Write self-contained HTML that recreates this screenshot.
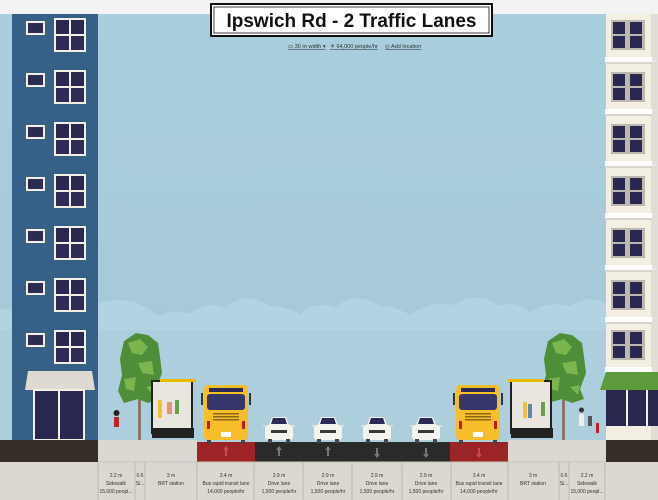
<!DOCTYPE html>
<html><head><meta charset="utf-8"><style>
html,body{margin:0;padding:0;width:658px;height:500px;overflow:hidden;background:#dcd8cf}
svg{display:block}
text{font-family:"Liberation Sans",sans-serif}
</style></head><body>
<svg width="658" height="500" viewBox="0 0 658 500" xmlns="http://www.w3.org/2000/svg">
<defs>
<linearGradient id="sky" x1="0" y1="0" x2="0" y2="1"><stop offset="0" stop-color="#a9cfdf"/><stop offset="1" stop-color="#a5c7d6"/></linearGradient>
<g id="lw">
 <rect x="26" y="3" width="19" height="14" fill="#f3efe3"/><rect x="28" y="5" width="15" height="10" fill="#2d2b52"/>
 <rect x="54" y="0" width="32" height="34" fill="#f3efe3"/><rect x="56" y="2" width="13" height="14" fill="#2a2850"/><rect x="71" y="2" width="13" height="14" fill="#2a2850"/><rect x="56" y="18" width="13" height="14" fill="#2e2c56"/><rect x="71" y="18" width="13" height="14" fill="#2e2c56"/>
</g>
<g id="rw">
 <rect x="611" y="0" width="34" height="30" fill="#bdb9b0"/><rect x="613" y="2" width="12" height="12" fill="#2a2850"/><rect x="613" y="16" width="12" height="12" fill="#2a2850"/><rect x="630" y="2" width="12" height="12" fill="#2a2850"/><rect x="630" y="16" width="12" height="12" fill="#2a2850"/>
 <rect x="605" y="37" width="47" height="7" fill="#fff"/><rect x="605" y="42" width="47" height="2" fill="#d8d4ca"/>
</g>
<g id="car">
 <rect x="2" y="10" width="28" height="15" rx="3" fill="#f4f3ee"/><path d="M6 10 L9 2 H23 L26 10 Z" fill="#f4f3ee"/><path d="M8 9 L10 3 H22 L24 9 Z" fill="#2b2a55"/>
 <rect x="8" y="15" width="16" height="3" fill="#3a3a3a"/><rect x="0" y="10" width="3" height="2" fill="#ddd"/><rect x="29" y="10" width="3" height="2" fill="#ddd"/>
 <rect x="5" y="24" width="4" height="4" fill="#444"/><rect x="23" y="24" width="4" height="4" fill="#444"/>
</g>
<g id="bus">
 <rect x="3" y="0" width="44" height="55" rx="4" fill="#f7bd2b"/><rect x="8" y="3" width="34" height="4" fill="#2b2a55"/><rect x="6" y="9" width="38" height="16" rx="3" fill="#37366a"/>
 <rect x="12" y="28" width="26" height="1.5" fill="#8a6a14"/><rect x="12" y="31" width="26" height="1.5" fill="#8a6a14"/><rect x="12" y="34" width="26" height="1.5" fill="#8a6a14"/>
 <rect x="6" y="36" width="3" height="8" fill="#b22"/><rect x="41" y="36" width="3" height="8" fill="#b22"/><rect x="20" y="47" width="10" height="5" fill="#fff"/>
 <rect x="0" y="8" width="2" height="12" fill="#333"/><rect x="48" y="8" width="2" height="12" fill="#333"/>
 <rect x="6" y="55" width="4" height="4" fill="#444"/><rect x="40" y="55" width="4" height="4" fill="#444"/>
</g>
<g id="tree">
 <path d="M20 45 L20 107 H23 V60 L32 48 L22 55 L21 40 Z" fill="#8a7566"/>
 <path d="M6 8 L18 0 L30 2 L40 10 L42 24 L44 40 L38 56 L42 66 L30 70 L20 66 L6 70 L0 58 L4 42 L2 26 Z" fill="#4e8e38"/>
 <path d="M10 10 L22 6 L30 14 L24 22 L14 20 Z M20 30 L34 28 L36 42 L24 40 Z M6 46 L18 44 L16 58 L8 56 Z M28 54 L38 52 L36 62 Z" fill="#7cb44e"/>
</g>
</defs>
<rect width="658" height="500" fill="#dcd8cf"/>
<rect y="0" width="658" height="442" fill="url(#sky)"/>
<path d="M0 310 Q8 306 12 312 Q30 290 55 302 Q70 300 85 310 Q95 302 115 300 Q140 300 158 316 Q175 308 190 314 Q205 300 225 308 Q245 290 270 306 Q285 306 300 314 Q315 300 335 308 Q355 290 380 306 Q395 306 410 315 Q430 300 455 305 Q475 290 500 306 Q515 300 530 312 Q550 300 570 306 Q590 292 610 306 L658 306 V442 H0 Z" fill="#b2d4e2"/>
<rect y="330" width="658" height="112" fill="#adcfdd"/>
<rect x="0" y="0" width="658" height="14" fill="#f3f3f3"/>
<rect x="12" y="14" width="86" height="428" fill="#376086"/>
<use href="#lw" y="18"/><use href="#lw" y="70"/><use href="#lw" y="122"/><use href="#lw" y="174"/><use href="#lw" y="226"/><use href="#lw" y="278"/><use href="#lw" y="330"/>
<path d="M28 371 H92 L95 390 H25 Z" fill="#dedad1"/>
<rect x="33" y="389" width="52" height="52" fill="#f3efe3"/><rect x="35" y="391" width="23" height="48" fill="#2a2850"/><rect x="60" y="391" width="23" height="48" fill="#2a2850"/>
<rect x="606" y="14" width="52" height="428" fill="#f3efe3"/><rect x="651" y="14" width="7" height="428" fill="#e2ded5"/>
<use href="#rw" y="20"/><use href="#rw" y="72"/><use href="#rw" y="124"/><use href="#rw" y="176"/><use href="#rw" y="228"/><use href="#rw" y="280"/><use href="#rw" y="330"/>
<path d="M606 372 H658 V390 H600 Z" fill="#5c9a3c"/>
<rect x="606" y="390" width="52" height="36" fill="#2a2850"/><rect x="626" y="390" width="2" height="36" fill="#f3efe3"/><rect x="646" y="390" width="2" height="36" fill="#f3efe3"/>
<rect x="0" y="440" width="98" height="22" fill="#352d28"/><rect x="606" y="440" width="52" height="22" fill="#352d28"/>
<rect x="98" y="440" width="99" height="22" fill="#dcd8cf"/><rect x="508" y="440" width="98" height="22" fill="#dcd8cf"/>
<rect x="197" y="442" width="58" height="20" fill="#9d2426"/><rect x="450" y="442" width="58" height="20" fill="#9d2426"/>
<rect x="255" y="442" width="195" height="20" fill="#2a2b29"/>
<g fill="#777"><path d="M226 446 l-3 4 h2 v6 h2 v-6 h2 z" fill="#c05050"/><path d="M279 446 l-3 4 h2 v6 h2 v-6 h2 z"/><path d="M328 446 l-3 4 h2 v6 h2 v-6 h2 z"/><path d="M377 458 l-3 -4 h2 v-6 h2 v6 h2 z"/><path d="M426 458 l-3 -4 h2 v-6 h2 v6 h2 z"/><path d="M479 458 l-3 -4 h2 v-6 h2 v6 h2 z" fill="#c05050"/></g>
<use href="#tree" x="118" y="333"/><use href="#tree" x="542" y="333"/>
<rect x="152" y="381" width="40" height="52" fill="#e8e6df" stroke="#222" stroke-width="2"/><rect x="160" y="379" width="36" height="3" fill="#f0b800"/><rect x="152" y="428" width="42" height="10" fill="#222"/>
<rect x="158" y="400" width="4" height="18" fill="#f2c230"/><rect x="167" y="402" width="5" height="12" fill="#f09070"/><rect x="175" y="400" width="4" height="14" fill="#6aa04a"/>
<rect x="511" y="381" width="40" height="52" fill="#e8e6df" stroke="#222" stroke-width="2"/><rect x="508" y="379" width="36" height="3" fill="#f0b800"/><rect x="511" y="428" width="42" height="10" fill="#222"/>
<rect x="523" y="402" width="4" height="16" fill="#f2c230"/><rect x="528" y="404" width="4" height="14" fill="#5b87b7"/><rect x="541" y="402" width="4" height="14" fill="#6aa04a"/>
<rect x="114" y="417" width="5" height="10" fill="#c02028"/><circle cx="116.5" cy="413" r="3" fill="#222"/>
<rect x="579" y="414" width="5" height="12" fill="#eee"/><circle cx="581.5" cy="410" r="2.5" fill="#333"/><rect x="588" y="416" width="4" height="10" fill="#555"/><rect x="596" y="423" width="3" height="10" fill="#c02028"/>
<use href="#bus" x="201" y="385"/><use href="#bus" x="453" y="385"/>
<use href="#car" x="263" y="415"/><use href="#car" x="312" y="415"/><use href="#car" x="361" y="415"/><use href="#car" x="410" y="415"/>
<rect x="211" y="4" width="281" height="32" fill="#fff" stroke="#111" stroke-width="2"/>
<rect x="214" y="7" width="275" height="26" fill="none" stroke="#111" stroke-width="0.8"/>
<text x="351.5" y="27" text-anchor="middle" font-size="19" font-weight="bold" fill="#111" textLength="250" lengthAdjust="spacingAndGlyphs">Ipswich Rd - 2 Traffic Lanes</text>
<g font-size="5.5" fill="#333" text-decoration="underline"><text x="288" y="48">▭ 30 m width ▾</text><text x="330" y="48">⚘ 64,000 people/hr</text><text x="385" y="48">◎ Add location</text></g>
<rect x="0" y="462" width="658" height="38" fill="#dcd8cf"/>
<g stroke="#bdb8ae" stroke-width="1"><line x1="98" y1="462" x2="98" y2="500"/><line x1="135" y1="462" x2="135" y2="500"/><line x1="145" y1="462" x2="145" y2="500"/><line x1="197" y1="462" x2="197" y2="500"/><line x1="254" y1="462" x2="254" y2="500"/><line x1="303" y1="462" x2="303" y2="500"/><line x1="352" y1="462" x2="352" y2="500"/><line x1="402" y1="462" x2="402" y2="500"/><line x1="451" y1="462" x2="451" y2="500"/><line x1="508" y1="462" x2="508" y2="500"/><line x1="559" y1="462" x2="559" y2="500"/><line x1="569" y1="462" x2="569" y2="500"/><line x1="605" y1="462" x2="605" y2="500"/></g>
<line x1="98" y1="462" x2="605" y2="462" stroke="#c8c3b9" stroke-width="1"/>
<g stroke="#c5c0b6" stroke-width="0.7" stroke-dasharray="1,7.5"><line x1="98" y1="465" x2="605" y2="465"/></g>
<g font-size="5" fill="#333" text-anchor="middle">
<text x="116" y="477">2.2 m</text><text x="116" y="485">Sidewalk</text><text x="116" y="493">15,000 peopl...</text>
<text x="140" y="477">0.6</text><text x="140" y="485">Si...</text>
<text x="171" y="477">3 m</text><text x="171" y="485">BRT station</text>
<text x="226" y="477">3.4 m</text><text x="226" y="485">Bus rapid transit lane</text><text x="226" y="493">14,000 people/hr</text>
<text x="279" y="477">2.9 m</text><text x="279" y="485">Drive lane</text><text x="279" y="493">1,500 people/hr</text>
<text x="328" y="477">2.9 m</text><text x="328" y="485">Drive lane</text><text x="328" y="493">1,500 people/hr</text>
<text x="377" y="477">2.9 m</text><text x="377" y="485">Drive lane</text><text x="377" y="493">1,500 people/hr</text>
<text x="426" y="477">2.9 m</text><text x="426" y="485">Drive lane</text><text x="426" y="493">1,500 people/hr</text>
<text x="479" y="477">3.4 m</text><text x="479" y="485">Bus rapid transit lane</text><text x="479" y="493">14,000 people/hr</text>
<text x="533" y="477">3 m</text><text x="533" y="485">BRT station</text>
<text x="564" y="477">0.6</text><text x="564" y="485">Si...</text>
<text x="587" y="477">2.2 m</text><text x="587" y="485">Sidewalk</text><text x="587" y="493">15,000 peopl...</text>
</g>
</svg>
</body></html>
